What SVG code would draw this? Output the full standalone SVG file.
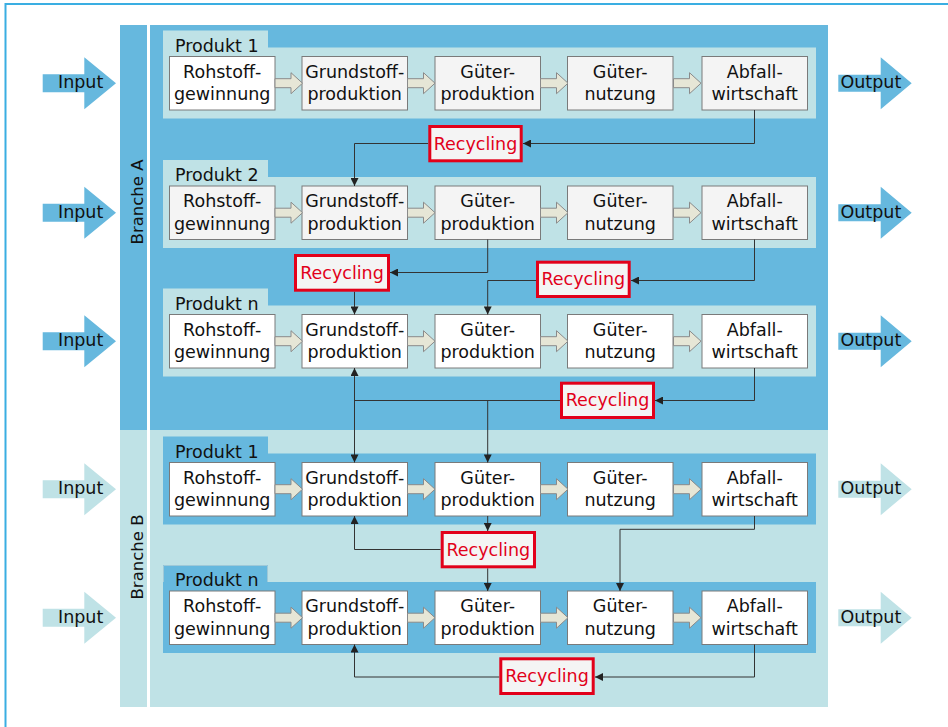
<svg xmlns="http://www.w3.org/2000/svg" width="948" height="727" viewBox="0 0 948 727">
<style>
text{font-family:"DejaVu Sans",sans-serif;font-size:17.5px;fill:#111}
.dark{fill:#66b8de}
.light{fill:#bfe2e6}
.box{stroke:#7a7a7a;stroke-width:1}
.w{fill:#ffffff}
.g{fill:#f4f4f4}
.rec{fill:#f4f4f4;stroke:#e2001a;stroke-width:3}
.rt{fill:#e2001a;text-anchor:middle}
.c{text-anchor:middle}
.con{fill:none;stroke:#333;stroke-width:1}
.br{font-size:16.5px;text-anchor:middle}
</style>
<defs>
<marker id="ah" viewBox="0 0 10 10" refX="10" refY="5" markerWidth="9" markerHeight="8" orient="auto-start-reverse" markerUnits="userSpaceOnUse"><path d="M0,0 L10,5 L0,10 z" fill="#222"/></marker>
<path id="fa" d="M0,-4.5 H16 V-10.5 L27.5,0 L16,10.5 V4.5 H0 Z" fill="#e6e6d6" stroke="#8a8a8a" stroke-width="1"/>
</defs>
<rect width="948" height="727" fill="#fff"/>
<path d="M5.5,727 V4 H948" fill="none" stroke="#3aaee2" stroke-width="2"/>

<g id="branche-a">
<rect x="120" y="25" width="27" height="405" class="dark"/>
<rect x="150" y="25" width="678" height="405" class="dark"/>
<text class="br" transform="translate(143,202) rotate(-90)">Branche A</text>
</g>
<g id="branche-b">
<rect x="120" y="430" width="27" height="277" class="light"/>
<rect x="150" y="430" width="678" height="277" class="light"/>
<text class="br" transform="translate(143,557) rotate(-90)">Branche B</text>
</g>

<g id="io">
<g id="in1"><path d="M42.7,74.2 H84.3 V57.2 L116,83.2 L84.3,109.2 V92.2 H42.7 Z" class="dark"/><text x="58" y="88.2">Input</text></g>
<g id="in2"><path d="M42.7,203.7 H84.3 V186.7 L116,212.7 L84.3,238.7 V221.7 H42.7 Z" class="dark"/><text x="58" y="217.7">Input</text></g>
<g id="in3"><path d="M42.7,332.2 H84.3 V315.2 L116,341.2 L84.3,367.2 V350.2 H42.7 Z" class="dark"/><text x="58" y="346.2">Input</text></g>
<g id="in4"><path d="M42.7,480.2 H84.3 V463.2 L116,489.2 L84.3,515.2 V498.2 H42.7 Z" class="light"/><text x="58" y="494.2">Input</text></g>
<g id="in5"><path d="M42.7,608.7 H84.3 V591.7 L116,617.7 L84.3,643.7 V626.7 H42.7 Z" class="light"/><text x="58" y="622.7">Input</text></g>
<g id="out1"><path d="M838.3,74.7 H880.7 V57.2 L911.7,83.2 L880.7,109.2 V91.7 H838.3 Z" class="dark"/><text x="840.5" y="88.2">Output</text></g>
<g id="out2"><path d="M838.3,204.2 H880.7 V186.7 L911.7,212.7 L880.7,238.7 V221.2 H838.3 Z" class="dark"/><text x="840.5" y="217.7">Output</text></g>
<g id="out3"><path d="M838.3,332.7 H880.7 V315.2 L911.7,341.2 L880.7,367.2 V349.7 H838.3 Z" class="dark"/><text x="840.5" y="346.2">Output</text></g>
<g id="out4"><path d="M838.3,480.7 H880.7 V463.2 L911.7,489.2 L880.7,515.2 V497.7 H838.3 Z" class="light"/><text x="840.5" y="494.2">Output</text></g>
<g id="out5"><path d="M838.3,609.2 H880.7 V591.7 L911.7,617.7 L880.7,643.7 V626.2 H838.3 Z" class="light"/><text x="840.5" y="622.7">Output</text></g>
</g>

<!-- Produkt 1 (A) -->
<g id="a-p1">
<path d="M163,30.5 H268 V47.5 H816 V118.5 H163 Z" class="light"/>
<text x="175" y="51.8">Produkt 1</text>
<g id="a-p1-roh"><rect x="169.5" y="56.5" width="105.5" height="53.5" class="box w"/><text class="c" x="222.2" y="77.5">Rohstoff-</text><text class="c" x="222.2" y="100">gewinnung</text></g>
<g id="a-p1-grund"><rect x="302" y="56.5" width="105.5" height="53.5" class="box g"/><text class="c" x="354.7" y="77.5">Grundstoff-</text><text class="c" x="354.7" y="100">produktion</text></g>
<g id="a-p1-gprod"><rect x="435" y="56.5" width="105.5" height="53.5" class="box g"/><text class="c" x="487.7" y="77.5">Güter-</text><text class="c" x="487.7" y="100">produktion</text></g>
<g id="a-p1-gnutz"><rect x="567.5" y="56.5" width="105.5" height="53.5" class="box g"/><text class="c" x="620.2" y="77.5">Güter-</text><text class="c" x="620.2" y="100">nutzung</text></g>
<g id="a-p1-abf"><rect x="702" y="56.5" width="105.5" height="53.5" class="box g"/><text class="c" x="754.7" y="77.5">Abfall-</text><text class="c" x="754.7" y="100">wirtschaft</text></g>
<use href="#fa" x="275" y="83.2"/><use href="#fa" x="407.5" y="83.2"/><use href="#fa" x="540.5" y="83.2"/><use href="#fa" x="673.5" y="83.2"/>
</g>

<!-- Produkt 2 (A) -->
<g id="a-p2">
<path d="M163,160 H268 V177 H816 V248 H163 Z" class="light"/>
<text x="175" y="181.3">Produkt 2</text>
<g id="a-p2-roh"><rect x="169.5" y="186" width="105.5" height="53.5" class="box g"/><text class="c" x="222.2" y="207">Rohstoff-</text><text class="c" x="222.2" y="229.5">gewinnung</text></g>
<g id="a-p2-grund"><rect x="302" y="186" width="105.5" height="53.5" class="box g"/><text class="c" x="354.7" y="207">Grundstoff-</text><text class="c" x="354.7" y="229.5">produktion</text></g>
<g id="a-p2-gprod"><rect x="435" y="186" width="105.5" height="53.5" class="box g"/><text class="c" x="487.7" y="207">Güter-</text><text class="c" x="487.7" y="229.5">produktion</text></g>
<g id="a-p2-gnutz"><rect x="567.5" y="186" width="105.5" height="53.5" class="box g"/><text class="c" x="620.2" y="207">Güter-</text><text class="c" x="620.2" y="229.5">nutzung</text></g>
<g id="a-p2-abf"><rect x="702" y="186" width="105.5" height="53.5" class="box g"/><text class="c" x="754.7" y="207">Abfall-</text><text class="c" x="754.7" y="229.5">wirtschaft</text></g>
<use href="#fa" x="275" y="212.7"/><use href="#fa" x="407.5" y="212.7"/><use href="#fa" x="540.5" y="212.7"/><use href="#fa" x="673.5" y="212.7"/>
</g>

<!-- Produkt n (A) -->
<g id="a-pn">
<path d="M163,288.5 H268 V305.5 H816 V376.5 H163 Z" class="light"/>
<text x="175" y="309.8">Produkt n</text>
<g id="a-pn-roh"><rect x="169.5" y="314.5" width="105.5" height="53.5" class="box w"/><text class="c" x="222.2" y="335.5">Rohstoff-</text><text class="c" x="222.2" y="358">gewinnung</text></g>
<g id="a-pn-grund"><rect x="302" y="314.5" width="105.5" height="53.5" class="box w"/><text class="c" x="354.7" y="335.5">Grundstoff-</text><text class="c" x="354.7" y="358">produktion</text></g>
<g id="a-pn-gprod"><rect x="435" y="314.5" width="105.5" height="53.5" class="box w"/><text class="c" x="487.7" y="335.5">Güter-</text><text class="c" x="487.7" y="358">produktion</text></g>
<g id="a-pn-gnutz"><rect x="567.5" y="314.5" width="105.5" height="53.5" class="box w"/><text class="c" x="620.2" y="335.5">Güter-</text><text class="c" x="620.2" y="358">nutzung</text></g>
<g id="a-pn-abf"><rect x="702" y="314.5" width="105.5" height="53.5" class="box w"/><text class="c" x="754.7" y="335.5">Abfall-</text><text class="c" x="754.7" y="358">wirtschaft</text></g>
<use href="#fa" x="275" y="341.2"/><use href="#fa" x="407.5" y="341.2"/><use href="#fa" x="540.5" y="341.2"/><use href="#fa" x="673.5" y="341.2"/>
</g>

<!-- Produkt 1 (B) -->
<g id="b-p1">
<path d="M163,436.5 H268 V453.5 H816 V524.5 H163 Z" class="dark"/>
<text x="175" y="457.8">Produkt 1</text>
<g id="b-p1-roh"><rect x="169.5" y="462.5" width="105.5" height="53.5" class="box w"/><text class="c" x="222.2" y="483.5">Rohstoff-</text><text class="c" x="222.2" y="506">gewinnung</text></g>
<g id="b-p1-grund"><rect x="302" y="462.5" width="105.5" height="53.5" class="box w"/><text class="c" x="354.7" y="483.5">Grundstoff-</text><text class="c" x="354.7" y="506">produktion</text></g>
<g id="b-p1-gprod"><rect x="435" y="462.5" width="105.5" height="53.5" class="box w"/><text class="c" x="487.7" y="483.5">Güter-</text><text class="c" x="487.7" y="506">produktion</text></g>
<g id="b-p1-gnutz"><rect x="567.5" y="462.5" width="105.5" height="53.5" class="box w"/><text class="c" x="620.2" y="483.5">Güter-</text><text class="c" x="620.2" y="506">nutzung</text></g>
<g id="b-p1-abf"><rect x="702" y="462.5" width="105.5" height="53.5" class="box w"/><text class="c" x="754.7" y="483.5">Abfall-</text><text class="c" x="754.7" y="506">wirtschaft</text></g>
<use href="#fa" x="275" y="489.2"/><use href="#fa" x="407.5" y="489.2"/><use href="#fa" x="540.5" y="489.2"/><use href="#fa" x="673.5" y="489.2"/>
</g>

<!-- Produkt n (B) -->
<g id="b-pn">
<path d="M163,565 H268 V582 H816 V653 H163 Z" class="dark"/>
<path d="M163.5,582 V565.5 H267.5 V582" fill="none" stroke="#9fc9d8" stroke-width="1"/>
<text x="175" y="586.3">Produkt n</text>
<g id="b-pn-roh"><rect x="169.5" y="591" width="105.5" height="53.5" class="box w"/><text class="c" x="222.2" y="612">Rohstoff-</text><text class="c" x="222.2" y="634.5">gewinnung</text></g>
<g id="b-pn-grund"><rect x="302" y="591" width="105.5" height="53.5" class="box w"/><text class="c" x="354.7" y="612">Grundstoff-</text><text class="c" x="354.7" y="634.5">produktion</text></g>
<g id="b-pn-gprod"><rect x="435" y="591" width="105.5" height="53.5" class="box w"/><text class="c" x="487.7" y="612">Güter-</text><text class="c" x="487.7" y="634.5">produktion</text></g>
<g id="b-pn-gnutz"><rect x="567.5" y="591" width="105.5" height="53.5" class="box w"/><text class="c" x="620.2" y="612">Güter-</text><text class="c" x="620.2" y="634.5">nutzung</text></g>
<g id="b-pn-abf"><rect x="702" y="591" width="105.5" height="53.5" class="box w"/><text class="c" x="754.7" y="612">Abfall-</text><text class="c" x="754.7" y="634.5">wirtschaft</text></g>
<use href="#fa" x="275" y="617.7"/><use href="#fa" x="407.5" y="617.7"/><use href="#fa" x="540.5" y="617.7"/><use href="#fa" x="673.5" y="617.7"/>
</g>

<g id="connectors">
<path class="con" marker-end="url(#ah)" d="M754.5,110 V143.5 H523"/>
<path class="con" marker-end="url(#ah)" d="M428,143.5 H354.5 V186"/>
<path class="con" marker-end="url(#ah)" d="M487.7,239.5 V272.5 H390"/>
<path class="con" marker-end="url(#ah)" d="M354.5,291.7 V314.5"/>
<path class="con" marker-end="url(#ah)" d="M754.5,239.5 V280.5 H631"/>
<path class="con" marker-end="url(#ah)" d="M536,280.5 H487.7 V314.5"/>
<path class="con" marker-end="url(#ah)" d="M754.5,368 V400.5 H655"/>
<path class="con" d="M560,400.5 H354.5"/>
<path class="con" marker-start="url(#ah)" marker-end="url(#ah)" d="M354.5,368 V462.5"/>
<path class="con" marker-end="url(#ah)" d="M487.7,400.5 V462.5"/>
<path class="con" marker-end="url(#ah)" d="M487.7,516 V531"/>
<path class="con" marker-end="url(#ah)" d="M440.7,549.5 H354.5 V516"/>
<path class="con" marker-end="url(#ah)" d="M487.7,568.3 V591"/>
<path class="con" marker-end="url(#ah)" d="M754.5,516 V529.3 H620 V591"/>
<path class="con" marker-end="url(#ah)" d="M754.5,644.5 V677 H595"/>
<path class="con" marker-end="url(#ah)" d="M499.3,677 H354.5 V644.5"/>
</g>

<g id="recycling">
<g id="r1"><rect x="429.8" y="126.5" width="91.4" height="34.3" class="rec"/><text class="rt" x="475.5" y="149.6">Recycling</text></g>
<g id="r2"><rect x="295.5" y="255.5" width="93" height="34.7" class="rec"/><text class="rt" x="342" y="278.8">Recycling</text></g>
<g id="r3"><rect x="537.5" y="262.2" width="91.7" height="34.3" class="rec"/><text class="rt" x="583.3" y="285.3">Recycling</text></g>
<g id="r4"><rect x="561.5" y="383.2" width="92" height="34.3" class="rec"/><text class="rt" x="607.5" y="406.3">Recycling</text></g>
<g id="r5"><rect x="442.2" y="532.5" width="92.3" height="34.3" class="rec"/><text class="rt" x="488.3" y="555.6">Recycling</text></g>
<g id="r6"><rect x="500.8" y="658.8" width="92.4" height="34.7" class="rec"/><text class="rt" x="547" y="682.1">Recycling</text></g>
</g>
</svg>
